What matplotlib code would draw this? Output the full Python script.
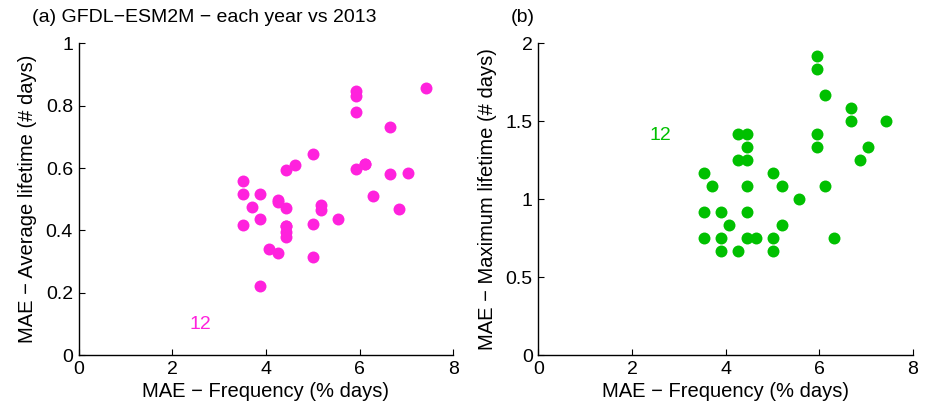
import matplotlib
matplotlib.use("Agg")
import matplotlib.pyplot as plt

plt.rcParams['font.family'] = ['Liberation Sans', 'DejaVu Sans']

# MAE - Frequency (% days) for each year
freq_a = [7.41, 5.92, 5.92, 5.92, 6.66, 5.00, 4.63, 4.44, 5.92, 6.11, 6.11, 6.66,
          7.03, 3.51, 3.51, 3.88, 3.70, 4.25, 4.25, 4.44, 5.18, 5.18, 6.29, 6.84,
          3.51, 3.88, 4.44, 4.44, 4.44, 4.44, 5.00, 5.55, 4.06, 4.25, 5.00, 3.88]
# MAE - Average lifetime (# days)
avg_life = [0.857, 0.848, 0.831, 0.779, 0.732, 0.644, 0.609, 0.594, 0.596, 0.612, 0.612, 0.582,
            0.585, 0.559, 0.516, 0.518, 0.476, 0.497, 0.490, 0.473, 0.482, 0.466, 0.511, 0.470,
            0.417, 0.437, 0.414, 0.414, 0.396, 0.380, 0.421, 0.437, 0.341, 0.329, 0.314, 0.223]

freq_b = [5.95, 5.95, 6.13, 6.68, 6.68, 7.42, 4.26, 4.45, 5.95, 4.45, 5.95, 7.05,
          4.26, 4.45, 6.87, 3.53, 5.01, 3.71, 4.45, 5.20, 6.13, 5.57, 3.53, 3.90,
          4.45, 4.08, 5.20, 3.53, 3.90, 4.45, 4.64, 5.01, 6.31, 3.90, 4.26, 5.01]
# MAE - Maximum lifetime (# days)
max_life = [1.917, 1.833, 1.667, 1.583, 1.500, 1.500, 1.417, 1.417, 1.417, 1.333, 1.333, 1.333,
            1.250, 1.250, 1.250, 1.167, 1.167, 1.083, 1.083, 1.083, 1.083, 1.000, 0.917, 0.917,
            0.917, 0.833, 0.833, 0.750, 0.750, 0.750, 0.750, 0.750, 0.750, 0.667, 0.667, 0.667]

xticks = [0, 2, 4, 6, 8]
yticks_a = [0, 0.2, 0.4, 0.6, 0.8, 1]
yticks_b = [0, 0.5, 1, 1.5, 2]
yticklabels_a = ['0', '0.2', '0.4', '0.6', '0.8', '1']
yticklabels_b = ['0', '0.5', '1', '1.5', '2']

magenta = '#FF22DD'
green = '#00C000'
FS = 14

fig = plt.figure(figsize=(9.25, 4.08), dpi=100)
ax1 = fig.add_axes([0.0849, 0.1292, 0.405, 0.7647])
ax2 = fig.add_axes([0.582, 0.1292, 0.405, 0.7647])

def style(ax, yticks, yticklabels, ylim, ylabel):
    ax.set_xlim(0, 8)
    ax.set_ylim(*ylim)
    ax.set_xticks(xticks)
    ax.set_xticklabels([str(t) for t in xticks])
    ax.set_yticks(yticks)
    ax.set_yticklabels(yticklabels)
    for s in ['top', 'right']:
        ax.spines[s].set_visible(False)
    for s in ['left', 'bottom']:
        ax.spines[s].set_linewidth(1.0)
    ax.tick_params(direction='in', length=4, width=0.8, labelsize=FS, pad=4)
    ax.set_xlabel('MAE \u2212 Frequency (% days)', fontsize=FS + 0.5, labelpad=3)
    ax.set_ylabel(ylabel, fontsize=FS + 0.5, labelpad=6)

ax1.plot(freq_a, avg_life, 'o', color=magenta, markersize=8.6, markeredgewidth=0, clip_on=False)
ax1.text(2.6, 0.1, '12', color=magenta, fontsize=FS, ha='center', va='center')
style(ax1, yticks_a, yticklabels_a, (0, 1), 'MAE \u2212 Average lifetime (# days)')

ax2.plot(freq_b, max_life, 'o', color=green, markersize=8.6, markeredgewidth=0, clip_on=False)
ax2.text(2.6, 1.41, '12', color=green, fontsize=FS, ha='center', va='center')
style(ax2, yticks_b, yticklabels_b, (0, 2), 'MAE \u2212 Maximum lifetime (# days)')

fig.text(32 / 925, 1 - 18 / 408, '(a) GFDL\u2212ESM2M \u2212 each year vs 2013', fontsize=FS,
         ha='left', va='center')
fig.text(511 / 925, 1 - 18 / 408, '(b)', fontsize=FS, ha='left', va='center')

fig.savefig('out.png', dpi=100)
